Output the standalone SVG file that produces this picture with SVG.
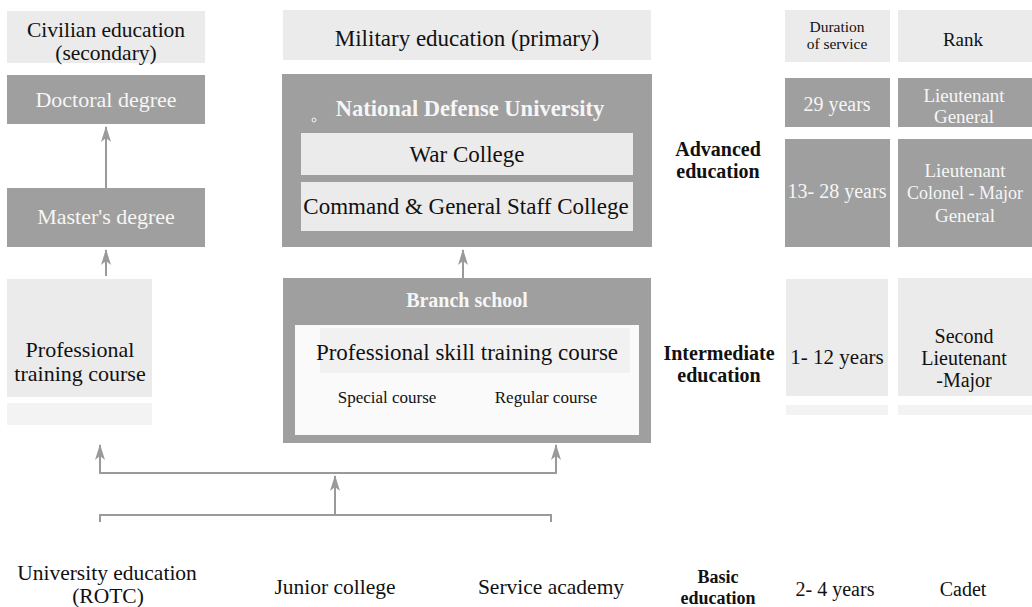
<svg xmlns="http://www.w3.org/2000/svg" width="1032" height="607" viewBox="0 0 1032 607" font-family="'Liberation Serif', serif">
<style>
text{font-family:'Liberation Serif',serif;fill:#111;text-anchor:middle}
.light{fill:#ebebeb}
.faint{fill:#f3f3f3}
.dark{fill:#9f9f9f}
.white{fill:#fafafa}
.wt{fill:#f6f6f6}
.b{font-weight:bold}
.conn{stroke:#9a9a9a;stroke-width:2;fill:none}
</style>
<defs>
<marker id="ah" viewBox="0 0 16 10" refX="15" refY="5" markerWidth="16" markerHeight="10" markerUnits="userSpaceOnUse" orient="auto">
<path d="M0,0 L16,5 L0,10 L4,5 Z" fill="#9a9a9a"/>
</marker>
</defs>
<rect width="1032" height="607" fill="#fff"/>

<g id="hdr-civilian"><rect class="light" x="7" y="11" width="198" height="52"/><text x="106" y="37" font-size="21.5">Civilian education</text><text x="106" y="60" font-size="21.5">(secondary)</text></g>
<g id="hdr-military"><rect class="light" x="283" y="10" width="368" height="50"/><text x="467" y="46" font-size="23">Military education (primary)</text></g>
<g id="hdr-duration"><rect class="light" x="785" y="10" width="105" height="52"/><text x="837" y="32" font-size="15.5">Duration</text><text x="837" y="49" font-size="15.5">of service</text></g>
<g id="hdr-rank"><rect class="light" x="898" y="10" width="134" height="52"/><text x="963" y="46" font-size="19">Rank</text></g>

<g id="doctoral"><rect class="dark" x="7" y="75" width="198" height="49"/><text class="wt" x="106" y="107" font-size="22">Doctoral degree</text></g>
<g id="masters"><rect class="dark" x="7" y="188" width="198" height="59"/><text class="wt" x="106" y="224" font-size="22">Master's degree</text></g>
<g id="professional"><rect class="light" x="7" y="279" width="145" height="118"/><rect class="faint" x="7" y="403" width="145" height="22"/><text x="80" y="357" font-size="22">Professional</text><text x="80" y="381" font-size="22">training course</text></g>

<g id="ndu"><rect class="dark" x="282" y="74" width="370" height="173"/><text class="wt b" x="470" y="116" font-size="22.5">National Defense University</text><circle cx="314" cy="120" r="2" fill="none" stroke="#f6f6f6" stroke-width="1"/>
<g id="war-college"><rect class="light" x="301" y="133" width="332" height="42"/><text x="467" y="162" font-size="23">War College</text></g>
<g id="cgsc"><rect class="light" x="301" y="182" width="332" height="49"/><text x="466" y="214" font-size="23">Command &amp; General Staff College</text></g>
</g>

<g id="branch"><rect class="dark" x="283" y="278" width="368" height="165"/><text class="wt b" x="467" y="307" font-size="20">Branch school</text>
<rect class="white" x="295" y="325" width="344" height="110"/><rect class="light" x="320" y="328" width="310" height="45" opacity="0.6"/>
<text x="467" y="360" font-size="23">Professional skill training course</text>
<text x="387" y="403" font-size="17">Special course</text><text x="546" y="403" font-size="17">Regular course</text></g>

<g id="lbl-advanced"><text class="b" x="718" y="156" font-size="20">Advanced</text><text class="b" x="718" y="178" font-size="20">education</text></g>
<g id="lbl-intermediate"><text class="b" x="719" y="360" font-size="20">Intermediate</text><text class="b" x="719" y="382" font-size="20">education</text></g>

<g id="dur-29"><rect class="dark" x="785" y="78" width="105" height="49"/><text class="wt" x="837" y="111" font-size="20">29 years</text></g>
<g id="rank-lg"><rect class="dark" x="898" y="78" width="134" height="49"/><text class="wt" x="964" y="102" font-size="19">Lieutenant</text><text class="wt" x="964" y="123" font-size="19">General</text></g>
<g id="dur-13"><rect class="dark" x="785" y="139" width="105" height="108"/><text class="wt" x="837" y="198" font-size="20">13- 28 years</text></g>
<g id="rank-lc"><rect class="dark" x="898" y="139" width="134" height="108"/><text class="wt" x="965" y="177" font-size="19">Lieutenant</text><text class="wt" x="965" y="199" font-size="18">Colonel - Major</text><text class="wt" x="965" y="222" font-size="19">General</text></g>
<g id="dur-1"><rect class="light" x="786" y="279" width="102" height="117"/><rect class="faint" x="786" y="405" width="102" height="10"/><text x="837" y="364" font-size="21">1- 12 years</text></g>
<g id="rank-sl"><rect class="light" x="898" y="278" width="134" height="118"/><rect class="faint" x="898" y="405" width="134" height="10"/><text x="964" y="343" font-size="20">Second</text><text x="964" y="365" font-size="20">Lieutenant</text><text x="964" y="387" font-size="20">-Major</text></g>

<g id="connectors">
<line class="conn" x1="106" y1="188" x2="106" y2="127" marker-end="url(#ah)"/>
<line class="conn" x1="106" y1="276" x2="106" y2="250" marker-end="url(#ah)"/>
<line class="conn" x1="463" y1="278" x2="463" y2="250" marker-end="url(#ah)"/>
<polyline class="conn" points="100,447 100,473 556,473 556,447"/>
<line class="conn" x1="100" y1="473" x2="100" y2="445" marker-end="url(#ah)"/>
<line class="conn" x1="556" y1="473" x2="556" y2="445" marker-end="url(#ah)"/>
<line class="conn" x1="335" y1="515" x2="335" y2="476" marker-end="url(#ah)"/>
<polyline class="conn" stroke-width="1.5" points="100,522 100,515 551,515 551,522"/>
</g>

<g id="univ"><text x="107" y="580" font-size="21.5">University education</text><text x="108" y="603" font-size="21.5">(ROTC)</text></g>
<g id="junior"><text x="335" y="594" font-size="21.5">Junior college</text></g>
<g id="academy"><text x="551" y="594" font-size="21.5">Service academy</text></g>
<g id="lbl-basic"><text class="b" x="718" y="583" font-size="18">Basic</text><text class="b" x="718" y="604" font-size="18">education</text></g>
<g id="dur-2"><text x="835" y="596" font-size="20">2- 4 years</text></g>
<g id="rank-cadet"><text x="963" y="596" font-size="20">Cadet</text></g>
</svg>
